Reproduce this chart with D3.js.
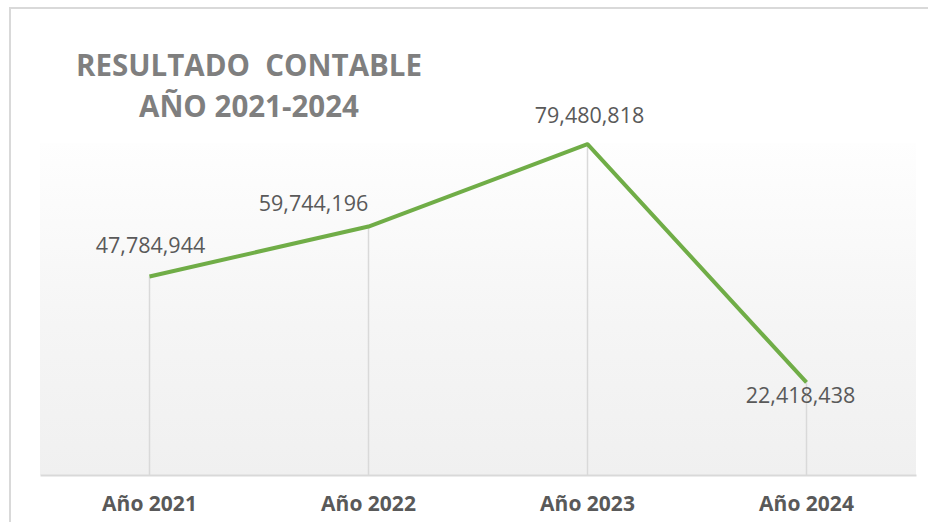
<!DOCTYPE html>
<html>
<head>
<meta charset="utf-8">
<script src="https://cdn.jsdelivr.net/npm/d3@7"></script>
<style>
  body { margin: 0; background: #fff; }
  svg { display: block; }
</style>
</head>
<body>
<div id="chart"></div>
<script>
// data
const years = ["Año 2021", "Año 2022", "Año 2023", "Año 2024"];
const results = [47784944, 59744196, 79480818, 22418438];
const titleLines = ["RESULTADO  CONTABLE", "AÑO 2021-2024"];

// label nudges relative to each point (layout only)
const labelNudge = [[1, -23], [-55, -16], [2, -21], [-6, 21]];

const width = 928, height = 522;
const margin = {top: 140, right: 12, bottom: 47, left: 40};

const svg = d3.select("#chart").append("svg")
    .attr("width", width)
    .attr("height", height);

// outer chart border
svg.append("rect")
    .attr("x", 10).attr("y", 8)
    .attr("width", 940).attr("height", 540)
    .attr("fill", "#fff")
    .attr("stroke", "#d9d9d9")
    .attr("stroke-width", 2);

const x = d3.scaleBand()
    .domain(years)
    .range([margin.left, width - margin.right]);

const y = d3.scaleLinear()
    .domain([0, 80000000])
    .range([height - margin.bottom + 1, margin.top + 2]);

// plot area gradient
const defs = svg.append("defs");
const grad = defs.append("linearGradient")
    .attr("id", "bg")
    .attr("x1", 0).attr("y1", 0).attr("x2", 0).attr("y2", 1);
grad.append("stop").attr("offset", "0%").attr("stop-color", "#fefefe");
grad.append("stop").attr("offset", "55%").attr("stop-color", "#f5f5f5");
grad.append("stop").attr("offset", "100%").attr("stop-color", "#f0f0f0");

svg.append("rect")
    .attr("x", margin.left)
    .attr("y", margin.top + 3)
    .attr("width", width - margin.right - margin.left)
    .attr("height", height - margin.bottom - margin.top - 3)
    .attr("fill", "url(#bg)");

// drop lines
svg.append("g")
  .selectAll("line")
  .data(results)
  .join("line")
    .attr("x1", (d, i) => x(years[i]) + x.bandwidth() / 2)
    .attr("x2", (d, i) => x(years[i]) + x.bandwidth() / 2)
    .attr("y1", d => y(d))
    .attr("y2", y(0))
    .attr("stroke", "#d9d9d9")
    .attr("stroke-width", 1.5);

// x axis
const xAxis = svg.append("g")
    .attr("transform", `translate(0,${height - margin.bottom})`)
    .call(d3.axisBottom(x).tickSize(0).tickPadding(21));
xAxis.select(".domain")
    .attr("stroke", "#d9d9d9")
    .attr("stroke-width", 2);
xAxis.selectAll("text")
    .attr("fill", "#595959")
    .style("font-family", "'Open Sans', sans-serif")
    .style("font-weight", "bold")
    .style("font-size", "21px");

// line
const line = d3.line()
    .x((d, i) => x(years[i]) + x.bandwidth() / 2)
    .y(d => y(d));

svg.append("path")
    .datum(results)
    .attr("fill", "none")
    .attr("stroke", "#70ad47")
    .attr("stroke-width", 4)
    .attr("stroke-linejoin", "round")
    .attr("d", line);

// data labels
const fmt = d3.format(",");
svg.append("g")
  .selectAll("text")
  .data(results)
  .join("text")
    .attr("x", (d, i) => x(years[i]) + x.bandwidth() / 2 + labelNudge[i][0])
    .attr("y", (d, i) => y(d) + labelNudge[i][1])
    .attr("text-anchor", "middle")
    .attr("fill", "#595959")
    .style("font-family", "'Open Sans', sans-serif")
    .style("font-size", "21.5px")
    .text(d => fmt(d));

// title
svg.append("text")
    .attr("x", 249)
    .attr("y", 76)
    .attr("text-anchor", "middle")
    .attr("fill", "#7f7f7f")
    .style("font-family", "'Open Sans', sans-serif")
    .style("font-weight", "bold")
    .style("font-size", "29.5px")
    .selectAll("tspan")
    .data(titleLines)
    .join("tspan")
      .attr("x", 249)
      .attr("dy", (d, i) => i === 0 ? 0 : 41)
      .style("white-space", "pre")
      .text(d => d);
</script>
</body>
</html>
